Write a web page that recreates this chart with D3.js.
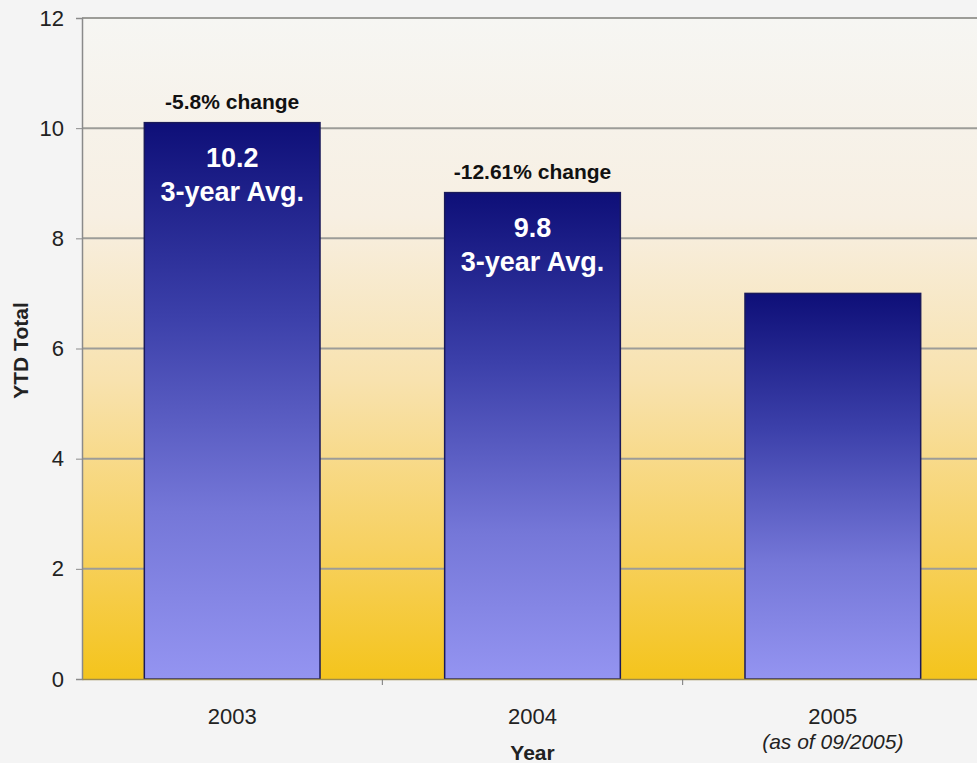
<!DOCTYPE html>
<html>
<head>
<meta charset="utf-8">
<script src="https://cdn.jsdelivr.net/npm/d3@7"></script>
<style>
  html, body { margin: 0; padding: 0; background: #f4f4f4; }
  svg { display: block; }
  text { font-family: "Liberation Sans", Arial, sans-serif; }
</style>
</head>
<body>
<svg id="chart" width="977" height="763"></svg>
<script>
// ---- data ----
const categories = ["2003", "2004", "2005"];
const categorySubLabels = ["", "", "(as of 09/2005)"];
const ytdTotals = [10.1, 8.83, 7.0];
const changeLabels = ["-5.8% change", "-12.61% change", ""];
const avgValues = ["10.2", "9.8", ""];
const avgLabel = "3-year Avg.";
const yTicks = [0, 2, 4, 6, 8, 10, 12];
const yAxisTitle = "YTD Total";
const xAxisTitle = "Year";

// ---- layout ----
const svg = d3.select("#chart");
const plot = { left: 82, right: 983, top: 18, bottom: 679 };

const x = d3.scaleBand()
  .domain(categories)
  .range([plot.left, plot.right])
  .paddingInner(0.415)
  .paddingOuter(0.2075);

const y = d3.scaleLinear().domain([0, 12]).range([plot.bottom, plot.top]);

const defs = svg.append("defs");
const bg = defs.append("linearGradient").attr("id", "bgGrad")
  .attr("x1", 0).attr("y1", 0).attr("x2", 0).attr("y2", 1);
[[0, "#f6f6f3"], [0.3, "#f7efe2"], [0.55, "#f8e2ae"], [0.8, "#f7d161"], [1, "#f4c41c"]]
  .forEach(([o, c]) => bg.append("stop").attr("offset", o).attr("stop-color", c));

const barGrad = defs.append("linearGradient").attr("id", "barGrad")
  .attr("x1", 0).attr("y1", 0).attr("x2", 0).attr("y2", 1);
[[0, "#0e0f78"], [0.35, "#3c40aa"], [0.7, "#7577d8"], [1, "#9494f1"]]
  .forEach(([o, c]) => barGrad.append("stop").attr("offset", o).attr("stop-color", c));

// plot background
svg.append("rect")
  .attr("x", plot.left).attr("y", plot.top)
  .attr("width", plot.right - plot.left).attr("height", plot.bottom - plot.top)
  .attr("fill", "url(#bgGrad)");

// gridlines
svg.append("g")
  .selectAll("line")
  .data(yTicks.filter(d => d > 0))
  .join("line")
  .attr("x1", plot.left).attr("x2", plot.right)
  .attr("y1", d => y(d)).attr("y2", d => y(d))
  .attr("stroke", "#9c9c98").attr("stroke-width", 2);

// y axis
const yAxis = d3.axisLeft(y).tickValues(yTicks).tickSize(6).tickPadding(12);
const yg = svg.append("g").attr("transform", `translate(${plot.left},0)`).call(yAxis);
yg.select(".domain").attr("stroke", "#8a8a8a").attr("stroke-width", 1.5);
yg.selectAll(".tick line").attr("stroke", "#8a8a8a");
yg.selectAll(".tick text")
  .attr("font-size", 22).attr("fill", "#222")
  .attr("font-family", "Liberation Sans, Arial, sans-serif");

// bars
svg.append("g")
  .selectAll("rect")
  .data(categories)
  .join("rect")
  .attr("x", d => x(d))
  .attr("y", (d, i) => y(ytdTotals[i]))
  .attr("width", x.bandwidth())
  .attr("height", (d, i) => y(0) - y(ytdTotals[i]))
  .attr("fill", "url(#barGrad)")
  .attr("stroke", "#1a1a5a").attr("stroke-width", 1.5);

// x axis
const xAxis = d3.axisBottom(x).tickSize(0).tickPadding(0).tickFormat("");
const xg = svg.append("g").attr("transform", `translate(0,${plot.bottom})`).call(xAxis);
xg.select(".domain").attr("stroke", "#9a8a50").attr("stroke-width", 1.5);
// category boundary ticks
const step = x.step();
svg.append("g").selectAll("line")
  .data(categories.slice(1))
  .join("line")
  .attr("x1", d => x(d) - (step - x.bandwidth()) / 2)
  .attr("x2", d => x(d) - (step - x.bandwidth()) / 2)
  .attr("y1", plot.bottom).attr("y2", plot.bottom + 6)
  .attr("stroke", "#777");

// category labels
const catG = svg.append("g");
catG.selectAll("text.cat")
  .data(categories)
  .join("text")
  .attr("class", "cat")
  .attr("x", d => x(d) + x.bandwidth() / 2)
  .attr("y", 724)
  .attr("text-anchor", "middle")
  .attr("font-size", 22).attr("fill", "#222")
  .text(d => d);
catG.selectAll("text.sub")
  .data(categories)
  .join("text")
  .attr("class", "sub")
  .attr("x", d => x(d) + x.bandwidth() / 2)
  .attr("y", 749)
  .attr("text-anchor", "middle")
  .attr("font-size", 21).attr("font-style", "italic").attr("fill", "#222")
  .text((d, i) => categorySubLabels[i]);

// bar annotations
const ann = svg.append("g");
categories.forEach((c, i) => {
  const cx = x(c) + x.bandwidth() / 2;
  const top = y(ytdTotals[i]);
  if (changeLabels[i]) {
    ann.append("text")
      .attr("x", cx).attr("y", top - 14)
      .attr("text-anchor", "middle")
      .attr("font-size", 21).attr("font-weight", "bold").attr("fill", "#111")
      .text(changeLabels[i]);
  }
  if (avgValues[i]) {
    ann.append("text")
      .attr("x", cx).attr("y", top + 44)
      .attr("text-anchor", "middle")
      .attr("font-size", 27).attr("font-weight", "bold").attr("fill", "#fff")
      .text(avgValues[i]);
    ann.append("text")
      .attr("x", cx).attr("y", top + 78)
      .attr("text-anchor", "middle")
      .attr("font-size", 27).attr("font-weight", "bold").attr("fill", "#fff")
      .text(avgLabel);
  }
});

// axis titles
svg.append("text")
  .attr("transform", `translate(28,${(plot.top + plot.bottom) / 2 + 2}) rotate(-90)`)
  .attr("text-anchor", "middle")
  .attr("font-size", 21).attr("font-weight", "bold").attr("fill", "#222")
  .text(yAxisTitle);
svg.append("text")
  .attr("x", x(categories[1]) + x.bandwidth() / 2)
  .attr("y", 760)
  .attr("text-anchor", "middle")
  .attr("font-size", 21).attr("font-weight", "bold").attr("fill", "#222")
  .text(xAxisTitle);
</script>
</body>
</html>
